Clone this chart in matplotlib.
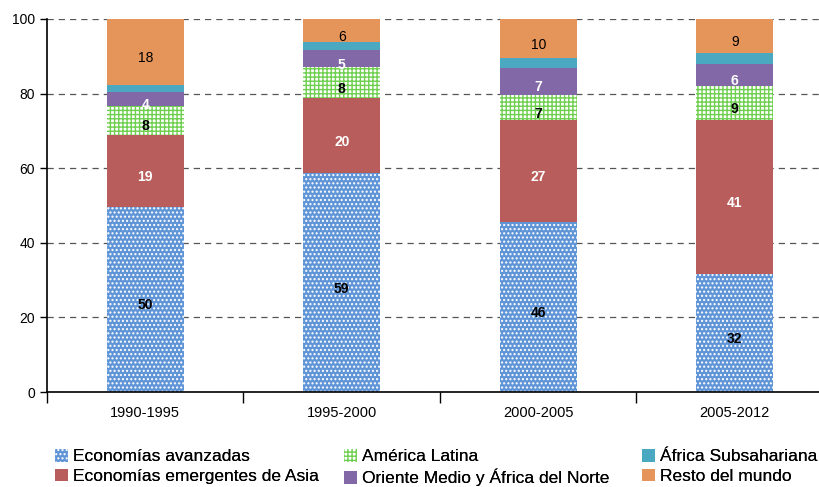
import numpy as np
import matplotlib.pyplot as plt

plt.rcParams['font.family'] = ['Liberation Sans', 'DejaVu Sans']
plt.rcParams['hatch.linewidth'] = 1.0

periods = ['1990-1995', '1995-2000', '2000-2005', '2005-2012']
series = ['Economías avanzadas', 'Economías emergentes de Asia', 'América Latina',
          'Oriente Medio y África del Norte', 'África Subsahariana', 'Resto del mundo']

avanzadas   = [49.6, 58.6, 45.6, 31.6]
asia        = [19.3, 20.3, 27.3, 41.4]
latina      = [7.8, 8.1, 6.7, 9.0]
oriente     = [3.8, 4.8, 7.3, 5.9]
subsahara   = [1.9, 1.9, 2.6, 3.0]
resto       = [17.6, 6.3, 10.5, 9.1]

values = [avanzadas, asia, latina, oriente, subsahara, resto]

# face, hatch colour, hatch, label colour, label weight, show label
styles = [
    ('#5f94d6', 'white', '....', 'black', 'bold', True),
    ('#b85d5b', None, None, 'white', 'bold', True),
    ('white', '#6fcf4f', '++++', 'black', 'bold', True),
    ('#8268a6', None, None, 'white', 'bold', True),
    ('#4aa8c0', None, None, 'black', 'normal', False),
    ('#e6955a', None, None, 'black', 'normal', True),
]

fig = plt.figure(figsize=(8.2, 4.87), dpi=100)
ax = fig.add_axes([47 / 820, 1 - 392 / 487, 786 / 820, 373 / 487])

x = np.arange(len(periods))
bottom = np.zeros(len(periods))
for name, vals, (fc, hc, hatch, tc, tw, show) in zip(series, values, styles):
    vals = np.array(vals)
    if hatch:
        ax.bar(x, vals, 0.39, bottom=bottom, color=fc, edgecolor=hc, hatch=hatch,
               linewidth=0, label=name, zorder=2)
    else:
        ax.bar(x, vals, 0.39, bottom=bottom, color=fc, linewidth=0, label=name, zorder=2)
    if show:
        for xi, b, v in zip(x, bottom, vals):
            ax.text(xi, b + v / 2 - 1.6, f'{v:.0f}', ha='center', va='center',
                    color=tc, fontweight=tw, fontsize=10, zorder=3)
    bottom += vals

ax.set_xlim(-0.5, 3.5)
ax.set_ylim(0, 100)
ax.set_yticks(range(0, 101, 20))
ax.yaxis.grid(True, linestyle=(0, (5, 4)), color='#555555', linewidth=0.9)
ax.set_axisbelow(True)

ax.set_xticks(np.arange(-0.5, 4, 1))
ax.set_xticklabels([])
ax.set_xticks(x, minor=True)
ax.set_xticklabels(periods, minor=True, fontsize=10.5)
ax.tick_params(axis='x', which='major', length=8, width=1, direction='out')
ax.tick_params(axis='x', which='minor', length=0, pad=10)
ax.tick_params(axis='y', length=5, width=1, labelsize=10)

for s in ['top', 'right']:
    ax.spines[s].set_visible(False)
for s in ['left', 'bottom']:
    ax.spines[s].set_linewidth(1.2)

# legend: three columns of two entries each, placed like the original
handles, labels = ax.get_legend_handles_labels()
col_x = [55, 344, 642]
for i, cx in enumerate(col_x):
    leg = fig.legend(handles[2 * i:2 * i + 2], labels[2 * i:2 * i + 2], loc='upper left',
                     bbox_to_anchor=(cx / 820, 1 - 449 / 487), frameon=False,
                     fontsize=12.5, handlelength=0.75, handleheight=0.75,
                     handletextpad=0.3, labelspacing=0.25, borderaxespad=0, borderpad=0)
    fig.add_artist(leg)

fig.savefig('out.png', dpi=100)
